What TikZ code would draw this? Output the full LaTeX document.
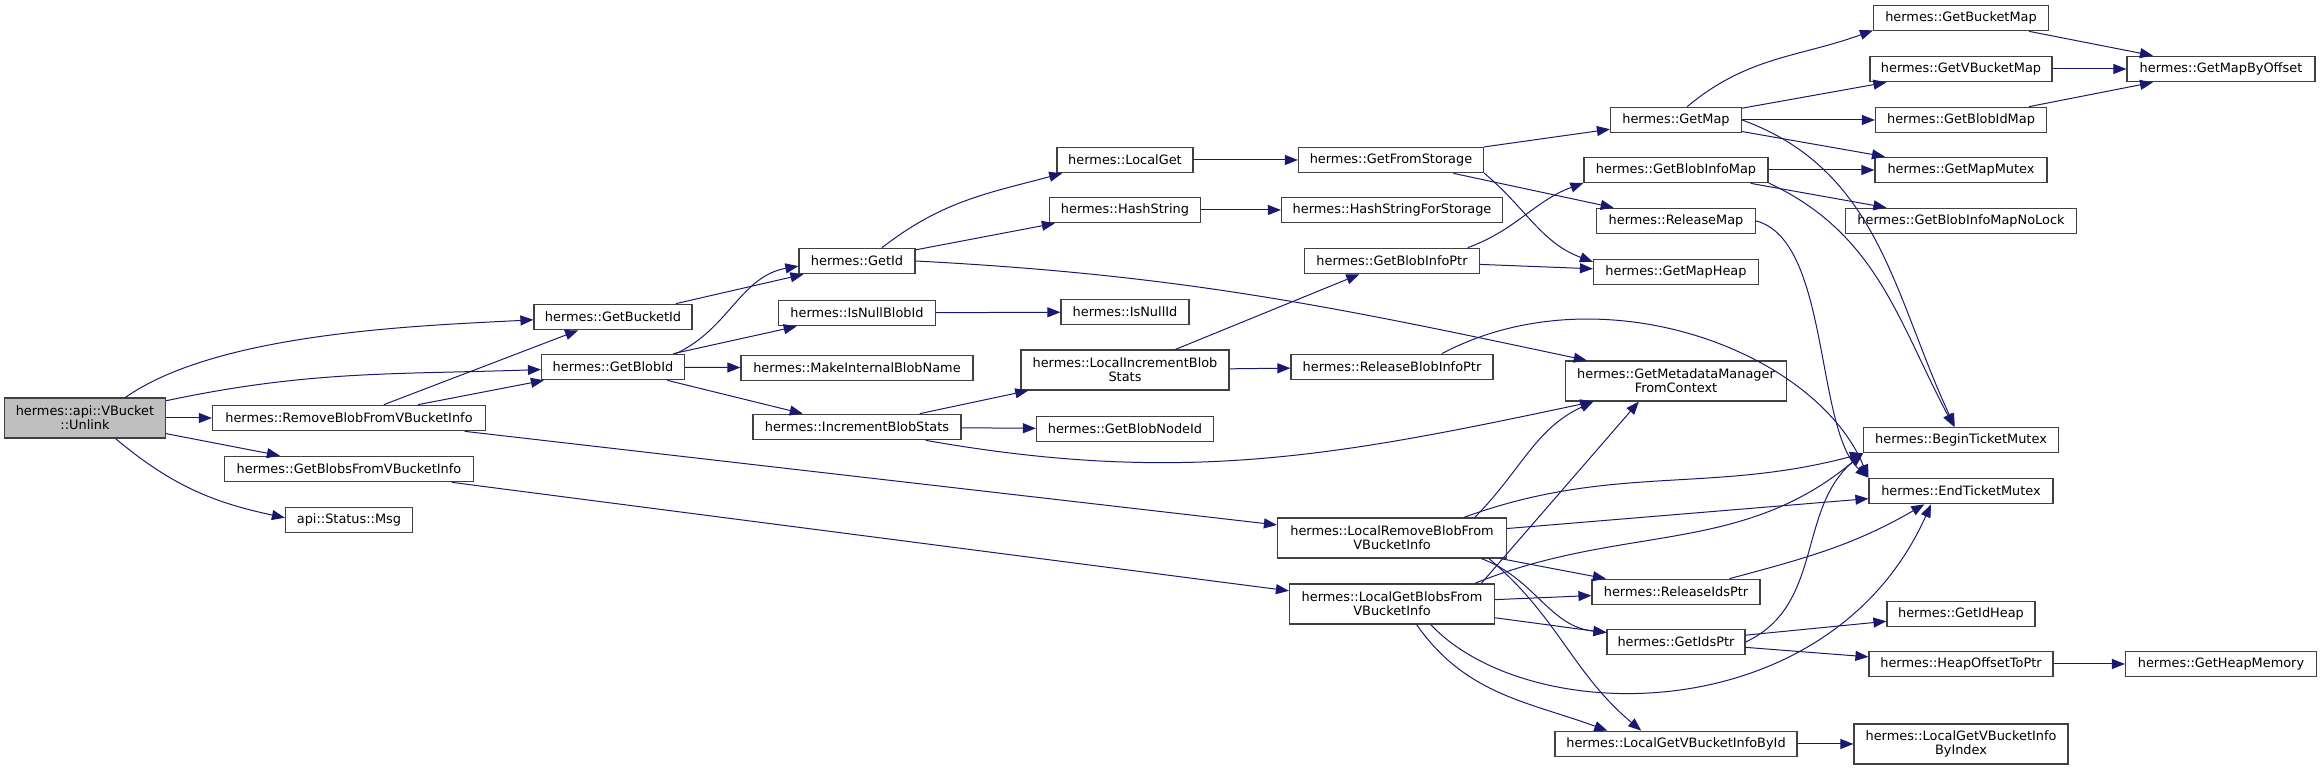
\documentclass[tikz,border=0pt]{standalone}
\usepackage{fontspec}
\usepackage{xcolor}
\usepackage{tikz}
\usetikzlibrary{arrows.meta}
\newfontfamily\dxfont{DejaVu Sans}
\definecolor{edgeblue}{HTML}{191970}
\definecolor{boxline}{HTML}{404040}
\definecolor{rootfill}{HTML}{BFBFBF}

\begin{document}
\begin{tikzpicture}[
      x=1pt, y=1pt,
      >={Triangle[length=13pt,width=10pt]},
      fn/.style={draw=boxline, fill=white, line width=1.2pt, align=center, minimum height=25.5pt, inner xsep=3pt, inner ysep=2pt, font=\dxfont\fontsize{12.9}{14}\selectfont},
      fn2/.style={fn, minimum height=40pt},
      root/.style={fn2, fill=rootfill},
      a/.style={->, draw=edgeblue, line width=1pt}
    ]
    \useasboundingbox (0,0) rectangle (2321,770);

    % ---- column 0 and 1 ----
    \node[root] (unlink) at (85,352) [minimum width=161pt] {hermes::api::VBucket\\::Unlink};
    \node[fn] (removeblob) at (349,352) [minimum width=273pt] {hermes::RemoveBlobFromVBucketInfo};
    \node[fn] (getblobs)   at (349,301) [minimum width=249pt] {hermes::GetBlobsFromVBucketInfo};
    \node[fn] (statusmsg)  at (349,250) [minimum width=127pt] {api::Status::Msg};

    % ---- column 2 and 3 ----
    \node[fn] (getbucketid)  at (613,453) [minimum width=158pt] {hermes::GetBucketId};
    \node[fn] (getblobid)    at (613,403) [minimum width=143pt] {hermes::GetBlobId};
    \node[fn] (getid)        at (857,509) [minimum width=116pt] {hermes::GetId};
    \node[fn] (isnullblobid) at (857,457) [minimum width=157pt] {hermes::IsNullBlobId};
    \node[fn] (makeinternal) at (857,402) [minimum width=232pt] {hermes::MakeInternalBlobName};
    \node[fn] (incstats)     at (857,343) [minimum width=208pt] {hermes::IncrementBlobStats};

    % ---- column 4 ----
    \node[fn]  (localget)      at (1125,610) [minimum width=136pt] {hermes::LocalGet};
    \node[fn]  (hashstring)    at (1125,560) [minimum width=151pt] {hermes::HashString};
    \node[fn]  (isnullid)      at (1125,458) [minimum width=128pt] {hermes::IsNullId};
    \node[fn2] (localinc)      at (1125,400) [minimum width=208pt] {hermes::LocalIncrementBlob\\Stats};
    \node[fn]  (getblobnodeid) at (1125,341) [minimum width=177pt] {hermes::GetBlobNodeId};

    % ---- column 5 ----
    \node[fn]  (getfromstorage)  at (1391,610) [minimum width=185pt] {hermes::GetFromStorage};
    \node[fn]  (hashforstorage)  at (1392,560) [minimum width=221pt] {hermes::HashStringForStorage};
    \node[fn]  (getblobinfoptr)  at (1392,509) [minimum width=175pt] {hermes::GetBlobInfoPtr};
    \node[fn]  (relblobinfoptr)  at (1392,403) [minimum width=202pt] {hermes::ReleaseBlobInfoPtr};
    \node[fn2] (localremove)     at (1392,232) [minimum width=229pt] {hermes::LocalRemoveBlobFrom\\VBucketInfo};
    \node[fn2] (localgetblobs)   at (1392,166) [minimum width=205pt] {hermes::LocalGetBlobsFrom\\VBucketInfo};

    % ---- column 6 ----
    \node[fn]  (getmap)         at (1676,650) [minimum width=131pt] {hermes::GetMap};
    \node[fn]  (getblobinfomap) at (1676,600) [minimum width=184pt] {hermes::GetBlobInfoMap};
    \node[fn]  (releasemap)     at (1676,549) [minimum width=159pt] {hermes::ReleaseMap};
    \node[fn]  (getmapheap)     at (1676,498) [minimum width=165pt] {hermes::GetMapHeap};
    \node[fn2] (getmdm)         at (1676,389) [minimum width=221pt] {hermes::GetMetadataManager\\FromContext};
    \node[fn]  (releaseidsptr)  at (1676,178) [minimum width=168pt] {hermes::ReleaseIdsPtr};
    \node[fn]  (getidsptr)      at (1676,128) [minimum width=138pt] {hermes::GetIdsPtr};
    \node[fn]  (localgetvbid)   at (1676,26)  [minimum width=242pt] {hermes::LocalGetVBucketInfoById};

    % ---- column 7 ----
    \node[fn]  (getbucketmap)   at (1961,752) [minimum width=175pt] {hermes::GetBucketMap};
    \node[fn]  (getvbucketmap)  at (1961,701) [minimum width=182pt] {hermes::GetVBucketMap};
    \node[fn]  (getblobidmap)   at (1961,650) [minimum width=171pt] {hermes::GetBlobIdMap};
    \node[fn]  (getmapmutex)    at (1961,600) [minimum width=172pt] {hermes::GetMapMutex};
    \node[fn]  (getbimnolock)   at (1961,549) [minimum width=231pt] {hermes::GetBlobInfoMapNoLock};
    \node[fn]  (beginticket)    at (1961,330) [minimum width=195pt] {hermes::BeginTicketMutex};
    \node[fn]  (endticket)      at (1961,279) [minimum width=184pt] {hermes::EndTicketMutex};
    \node[fn]  (getidheap)      at (1961,156) [minimum width=148pt] {hermes::GetIdHeap};
    \node[fn]  (heapoffset)     at (1961,106) [minimum width=184pt] {hermes::HeapOffsetToPtr};
    \node[fn2] (localgetvbidx)  at (1961,26)  [minimum width=214pt] {hermes::LocalGetVBucketInfo\\ByIndex};

    % ---- column 8 ----
    \node[fn] (getmapbyoffset) at (2221,701) [minimum width=188pt] {hermes::GetMapByOffset};
    \node[fn] (getheapmemory)  at (2221,106) [minimum width=191pt] {hermes::GetHeapMemory};

    % ---- calls out of Unlink ----
    \draw[a] (unlink.27) to[out=35,in=183,looseness=0.7] (getbucketid.182);
    \draw[a] (unlink.12) to[out=12,in=182] (getblobid.182);
    \draw[a] (unlink) -- (removeblob);
    \draw[a] (unlink) -- (getblobs);
    \draw[a] (unlink.-34) to[out=-40,in=168] (statusmsg.178);

    \draw[a] (removeblob) -- (getbucketid);
    \draw[a] (removeblob) -- (getblobid);
    \draw[a] (removeblob) -- (localremove);
    \draw[a] (getblobs) -- (localgetblobs);

    \draw[a] (getbucketid.12) -- (getid.194);
    \draw[a] (getblobid.12) to[out=25,in=190] (getid.185);
    \draw[a] (getblobid) -- (isnullblobid);
    \draw[a] (getblobid) -- (makeinternal);
    \draw[a] (getblobid) -- (incstats);

    \draw[a] (getid.28) to[out=38,in=195] (localget.192);
    \draw[a] (getid) -- (hashstring);
    \draw[a] (getid.east) to[out=-3,in=168] (getmdm.167);
    \draw[a] (isnullblobid) -- (isnullid);
    \draw[a] (incstats) -- (localinc);
    \draw[a] (incstats) -- (getblobnodeid);
    \draw[a] (incstats.-11) to[out=-10,in=192] (getmdm.194);

    \draw[a] (localget) -- (getfromstorage);
    \draw[a] (hashstring) -- (hashforstorage);
    \draw[a] (localinc) -- (getblobinfoptr);
    \draw[a] (localinc) -- (relblobinfoptr);

    % ---- middle columns ----
    \draw[a] (getfromstorage) -- (getmap);
    \draw[a] (getfromstorage.-8) to[out=-40,in=160] (getmapheap.173);
    \draw[a] (getfromstorage) -- (releasemap);
    \draw[a] (getblobinfoptr.10) to[out=20,in=200] (getblobinfomap.188);
    \draw[a] (getblobinfoptr) -- (getmapheap);
    \draw[a] (relblobinfoptr.15) .. controls (1600,500) and (1815,420) .. (endticket.north west);

    \draw[a] (getmap.50) to[out=40,in=200] (getbucketmap.188);
    \draw[a] (getmap) -- (getvbucketmap);
    \draw[a] (getmap) -- (getblobidmap);
    \draw[a] (getmap) -- (getmapmutex);
    \draw[a] (getmap.east) to[out=-20,in=115] (beginticket);
    \draw[a] (getblobinfomap) -- (getmapmutex);
    \draw[a] (getblobinfomap) -- (getbimnolock);
    \draw[a] (getblobinfomap.-8) to[out=-25,in=118] (beginticket);
    \draw[a] (releasemap.east) .. controls (1830,530) and (1815,340) .. (endticket.north west);

    \draw[a] (getbucketmap) -- (getmapbyoffset);
    \draw[a] (getvbucketmap) -- (getmapbyoffset);
    \draw[a] (getblobidmap) -- (getmapbyoffset);

    % ---- lower part ----
    \draw[a] (localremove.14) to[out=45,in=205] (getmdm.194);
    \draw[a] (localremove.16) to[out=20,in=195] (beginticket.south west);
    \draw[a] (localremove) -- (endticket);
    \draw[a] (localremove) -- (releaseidsptr);
    \draw[a] (localremove.-13) to[out=-20,in=175] (getidsptr.172);
    \draw[a] (localremove.-12) to[out=-40,in=140] (localgetvbid.159);

    \draw[a] (localgetblobs.13) -- (getmdm.209);
    \draw[a] (localgetblobs.14) to[out=22,in=220] (beginticket.south west);
    \draw[a] (localgetblobs) -- (releaseidsptr);
    \draw[a] (localgetblobs) -- (getidsptr);
    \draw[a] (localgetblobs.-40) to[out=-55,in=160] (localgetvbid.169);
    \draw[a] (localgetblobs.-28) .. controls (1530,40) and (1830,40) .. (endticket.204);

    \draw[a] (releaseidsptr.14) to[out=15,in=210] (endticket.200);
    \draw[a] (getidsptr.east) to[out=25,in=220] (beginticket.south west);
    \draw[a] (getidsptr) -- (getidheap);
    \draw[a] (getidsptr) -- (heapoffset);
    \draw[a] (heapoffset) -- (getheapmemory);
    \draw[a] (localgetvbid) -- (localgetvbidx);

    \end{tikzpicture}
\end{document}
